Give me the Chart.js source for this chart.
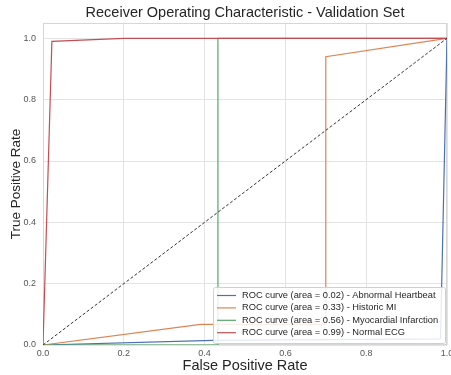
<!DOCTYPE html>
<html><head><meta charset="utf-8">
<script src="https://cdn.jsdelivr.net/npm/chart.js@4"></script>
<style>html,body{margin:0;padding:0;background:#fff}#wrap{width:451px;height:375px}</style>
</head><body><div id="wrap"><canvas id="c" width="451" height="375"></canvas></div>
<script>
const titleText = "Receiver Operating Characteristic - Validation Set";
const xTitle = "False Positive Rate";
const yTitle = "True Positive Rate";
const seriesLabels = [
  "ROC curve (area = 0.02) - Abnormal Heartbeat",
  "ROC curve (area = 0.33) - Historic MI",
  "ROC curve (area = 0.56) - Myocardial Infarction",
  "ROC curve (area = 0.99) - Normal ECG"
];
const fprAbnormal = [0, 0.42, 0.984, 1.0];
const tprAbnormal = [0, 0.015, 0.02, 1.0];
const fprHistoric = [0, 0.39, 0.70, 0.70, 1.0];
const tprHistoric = [0, 0.067, 0.067, 0.94, 1.0];
const fprMyocardial = [0, 0.433, 0.433, 1.0];
const tprMyocardial = [0, 0, 1.0, 1.0];
const fprNormal = [0, 0.022, 0.2, 1.0];
const tprNormal = [0, 0.99, 1.0, 1.0];
const fprChance = [0, 1];
const tprChance = [0, 1];
const tickValues = [0, 0.2, 0.4, 0.6, 0.8, 1.0];

const colors = ["#4c72b0", "#dd8452", "#55a868", "#c44e52"];
const pts = (xs, ys) => xs.map((x, i) => ({x: x, y: ys[i]}));
const FONT = "'Liberation Sans', Arial, sans-serif";

const curves = [[fprAbnormal, tprAbnormal], [fprHistoric, tprHistoric], [fprMyocardial, tprMyocardial], [fprNormal, tprNormal]];
const datasets = curves.map((c, i) => ({
  label: seriesLabels[i], data: pts(c[0], c[1]), showLine: true,
  borderColor: colors[i], backgroundColor: colors[i], borderWidth: 1.2,
  pointRadius: 0, fill: false, tension: 0, order: 4 - i
}));
datasets.push({label: "chance", data: pts(fprChance, tprChance), showLine: true,
  borderColor: "#333", borderWidth: 1, borderDash: [3, 2], pointRadius: 0, order: 0});

const frame = {
  id: 'frame',
  beforeDatasetsDraw(chart) {
    const a = chart.chartArea, ctx = chart.ctx;
    ctx.save(); ctx.strokeStyle = '#d6d6d6'; ctx.lineWidth = 1;
    ctx.strokeRect(Math.round(a.left) + 0.5, Math.round(a.top) + 0.5, Math.round(a.right - a.left) - 1, Math.round(a.bottom - a.top) - 1);
    ctx.restore();
  },
  afterDraw(chart) {
    const ctx = chart.ctx, a = chart.chartArea;
    ctx.save();
    ctx.font = "14.5px " + FONT; ctx.fillStyle = '#262626';
    ctx.textAlign = 'center'; ctx.textBaseline = 'middle';
    ctx.fillText(titleText, (a.left + a.right) / 2, 13);
    ctx.textAlign = 'left';
    const x0 = 213, y0 = 287, w = 232, h = 56;
    ctx.fillStyle = 'rgba(255,255,255,0.85)';
    ctx.strokeStyle = '#d0d0d0'; ctx.lineWidth = 1;
    ctx.beginPath();
    if (ctx.roundRect) ctx.roundRect(x0 + 0.5, y0 + 0.5, w, h, 2); else ctx.rect(x0 + 0.5, y0 + 0.5, w, h);
    ctx.fill(); ctx.stroke();
    ctx.font = "9.3px " + FONT; ctx.textBaseline = 'middle'; ctx.fillStyle = '#262626';
    for (let i = 0; i < 4; i++) {
      const yy = y0 + 8.5 + i * 12.4;
      ctx.strokeStyle = colors[i]; ctx.lineWidth = 1.2;
      ctx.beginPath(); ctx.moveTo(217, yy); ctx.lineTo(236, yy); ctx.stroke();
      ctx.fillText(chart.data.datasets[i].label, 242, yy);
    }
    ctx.restore();
  }
};

new Chart(document.getElementById('c'), {
  type: 'scatter',
  data: {datasets: datasets},
  options: {
    responsive: false, animation: false, devicePixelRatio: 1,
    layout: {padding: {left: 0, right: 4, top: 23, bottom: 0}},
    plugins: {
      legend: {display: false}, tooltip: {enabled: false}, title: {display: false}
    },
    scales: {
      x: {type: 'linear', min: 0, max: 1,
        afterBuildTicks: s => { s.ticks = tickValues.map(v => ({value: v})); },
        afterFit: s => { s.height = 30; s.paddingLeft = 0; s.paddingRight = 0; },
        grid: {color: '#e3e3e3', drawTicks: false}, border: {display: false},
        ticks: {padding: 3, color: '#555', font: {family: FONT, size: 9}, callback: v => Number(v).toFixed(1), maxRotation: 0},
        title: {display: true, text: xTitle, color: '#262626', font: {family: FONT, size: 14.5}, padding: 0}
      },
      y: {type: 'linear', min: 0, max: 1.05,
        afterBuildTicks: s => { s.ticks = tickValues.map(v => ({value: v})); },
        afterFit: s => { s.width = 43; s.paddingTop = 0; s.paddingBottom = 0; },
        grid: {color: '#e3e3e3', drawTicks: false}, border: {display: false},
        ticks: {padding: 7, color: '#555', font: {family: FONT, size: 9}, callback: v => Number(v).toFixed(1)},
        title: {display: true, text: yTitle, color: '#262626', font: {family: FONT, size: 13.5}, padding: {top: 8, bottom: 0}}
      }
    }
  },
  plugins: [frame]
});
</script></body></html>
